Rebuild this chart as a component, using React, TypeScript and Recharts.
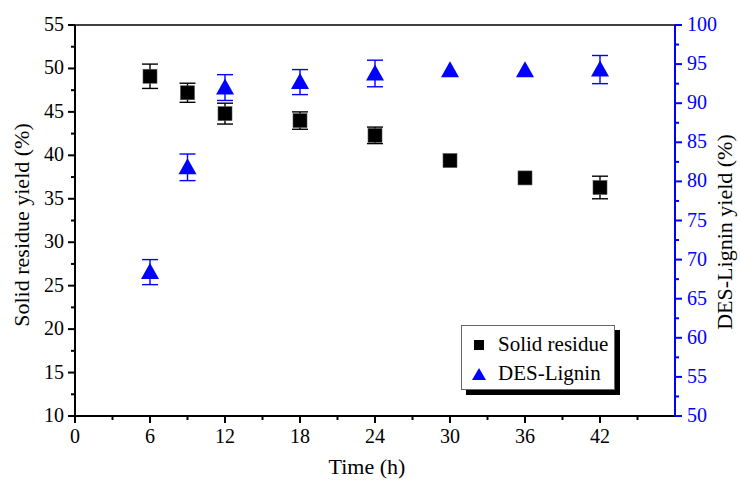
import React from "react";
import {
  ComposedChart,
  Scatter,
  XAxis,
  YAxis,
  ErrorBar,
} from "recharts";

// Values
const times = [6, 9, 12, 18, 24, 30, 36, 42];
const residue = [49.1, 47.2, 44.8, 44.0, 42.3, 39.4, 37.4, 36.3];
const residueErr = [1.4, 1.1, 1.2, 1.0, 0.95, 0, 0, 1.3];
const lignin = [68.4, 81.8, 92.0, 92.7, 93.8, 94.2, 94.2, 94.3];
const ligninErr = [1.6, 1.7, 1.65, 1.6, 1.7, 0, 0, 1.8];

const xTicks = [0, 3, 6, 9, 12, 15, 18, 21, 24, 27, 30, 33, 36, 39, 42, 45];
const leftTicks = [10, 12.5, 15, 17.5, 20, 22.5, 25, 27.5, 30, 32.5, 35, 37.5, 40, 42.5, 45, 47.5, 50, 52.5, 55];
const rightTicks = [50, 52.5, 55, 57.5, 60, 62.5, 65, 67.5, 70, 72.5, 75, 77.5, 80, 82.5, 85, 87.5, 90, 92.5, 95, 97.5, 100];

const FONT = "'Liberation Serif', serif";
const BLUE = "#0000ff";

const residueData = times.map((t, i) => ({ time: t, residue: residue[i], err: residueErr[i] }));
const ligninData = times.map((t, i) => ({ time: t, lignin: lignin[i], err: ligninErr[i] }));

const BottomTick = (props: any) => {
  const { x, y, payload } = props;
  const major = payload.value % 6 === 0 && payload.value <= 42;
  return (
    <g>
      <line x1={x} x2={x} y1={y} y2={y + (major ? 7 : 4)} stroke="#000" strokeWidth={2} />
      {major && (
        <text x={x} y={y + 27} textAnchor="middle" fontFamily={FONT} fontSize={20} fill="#000">
          {payload.value}
        </text>
      )}
    </g>
  );
};

const LeftTick = (props: any) => {
  const { x, y, payload } = props;
  const major = payload.value % 5 === 0;
  return (
    <g>
      <line x1={x} x2={x - (major ? 7 : 4)} y1={y} y2={y} stroke="#000" strokeWidth={2} />
      {major && (
        <text x={x - 11} y={y + 6} textAnchor="end" fontFamily={FONT} fontSize={20} fill="#000">
          {payload.value}
        </text>
      )}
    </g>
  );
};

const RightTick = (props: any) => {
  const { x, y, payload } = props;
  const major = payload.value % 5 === 0;
  return (
    <g>
      <line x1={x} x2={x + (major ? 7 : 4)} y1={y} y2={y} stroke={BLUE} strokeWidth={2} />
      {major && (
        <text x={x + 12} y={y + 6} textAnchor="start" fontFamily={FONT} fontSize={20} fill={BLUE}>
          {payload.value}
        </text>
      )}
    </g>
  );
};

const Square = (props: any) => {
  const { cx, cy } = props;
  return <rect x={cx - 7} y={cy - 7} width={14} height={14} fill="#000" stroke="#555" strokeWidth={0.6} />;
};

const Triangle = (props: any) => {
  const { cx, cy } = props;
  return <path d={`M${cx},${cy - 9} L${cx + 9},${cy + 7} L${cx - 9},${cy + 7} Z`} fill={BLUE} />;
};

export default function App() {
  return (
    <div style={{ position: "absolute", left: 0, top: 0, width: 740, height: 480, background: "#fff", fontFamily: FONT }}>
      <ComposedChart
        width={740}
        height={480}
        margin={{ top: 20, right: 15, left: 15, bottom: 24 }}
      >
        <XAxis
          xAxisId="bottom"
          dataKey="time"
          type="number"
          domain={[0, 48]}
          ticks={xTicks}
          interval={0}
          tickLine={false}
          tickSize={0}
          tickMargin={0}
          tick={<BottomTick />}
          axisLine={{ stroke: "#000", strokeWidth: 2 }}
          height={40}
        />
        <XAxis
          xAxisId="top"
          orientation="top"
          dataKey="time"
          type="number"
          domain={[0, 48]}
          tick={false}
          tickLine={false}
          axisLine={{ stroke: "#000", strokeWidth: 1.6 }}
          height={5}
        />
        <YAxis
          yAxisId="left"
          type="number"
          domain={[10, 55]}
          ticks={leftTicks}
          interval={0}
          tickLine={false}
          tickSize={0}
          tickMargin={0}
          tick={<LeftTick />}
          axisLine={{ stroke: "#000", strokeWidth: 2 }}
          width={60}
        />
        <YAxis
          yAxisId="right"
          orientation="right"
          type="number"
          domain={[50, 100]}
          ticks={rightTicks}
          interval={0}
          tickLine={false}
          tickSize={0}
          tickMargin={0}
          tick={<RightTick />}
          axisLine={{ stroke: BLUE, strokeWidth: 2 }}
          width={50}
        />
        <Scatter
          xAxisId="bottom"
          yAxisId="left"
          data={residueData}
          dataKey="residue"
          shape={<Square />}
          isAnimationActive={false}
        >
          <ErrorBar dataKey="err" direction="y" width={8} stroke="#000" strokeWidth={1.4} isAnimationActive={false} />
        </Scatter>
        <Scatter
          xAxisId="bottom"
          yAxisId="right"
          data={ligninData}
          dataKey="lignin"
          shape={<Triangle />}
          isAnimationActive={false}
        >
          <ErrorBar dataKey="err" direction="y" width={8} stroke={BLUE} strokeWidth={1.4} isAnimationActive={false} />
        </Scatter>
      </ComposedChart>

      {/* axis titles */}
      <div style={{ position: "absolute", left: 367, top: 467, transform: "translate(-50%, -50%)", fontSize: 22, whiteSpace: "nowrap" }}>
        Time (h)
      </div>
      <div style={{ position: "absolute", left: 22, top: 225, transform: "translate(-50%, -50%) rotate(-90deg)", fontSize: 22, whiteSpace: "nowrap" }}>
        Solid residue yield (%)
      </div>
      <div style={{ position: "absolute", left: 725, top: 232, transform: "translate(-50%, -50%) rotate(-90deg)", fontSize: 22, whiteSpace: "nowrap" }}>
        DES-Lignin yield (%)
      </div>

      {/* legend */}
      <div
        style={{
          position: "absolute",
          left: 461,
          top: 325,
          width: 152,
          height: 63,
          border: "1px solid #666",
          background: "#fff",
          boxShadow: "5px 5px 0 #000",
          fontSize: 21,
          whiteSpace: "nowrap",
        }}
      >
        <div style={{ display: "flex", alignItems: "center", height: 29, marginTop: 4 }}>
          <div style={{ width: 10, height: 10, background: "#000", marginLeft: 12, marginRight: 14 }} />
          <span>Solid residue</span>
        </div>
        <div style={{ display: "flex", alignItems: "center", height: 29 }}>
          <svg width={14} height={12} style={{ marginLeft: 10, marginRight: 12 }}>
            <path d="M7,0 L14,12 L0,12 Z" fill={BLUE} />
          </svg>
          <span>DES-Lignin</span>
        </div>
      </div>
    </div>
  );
}
